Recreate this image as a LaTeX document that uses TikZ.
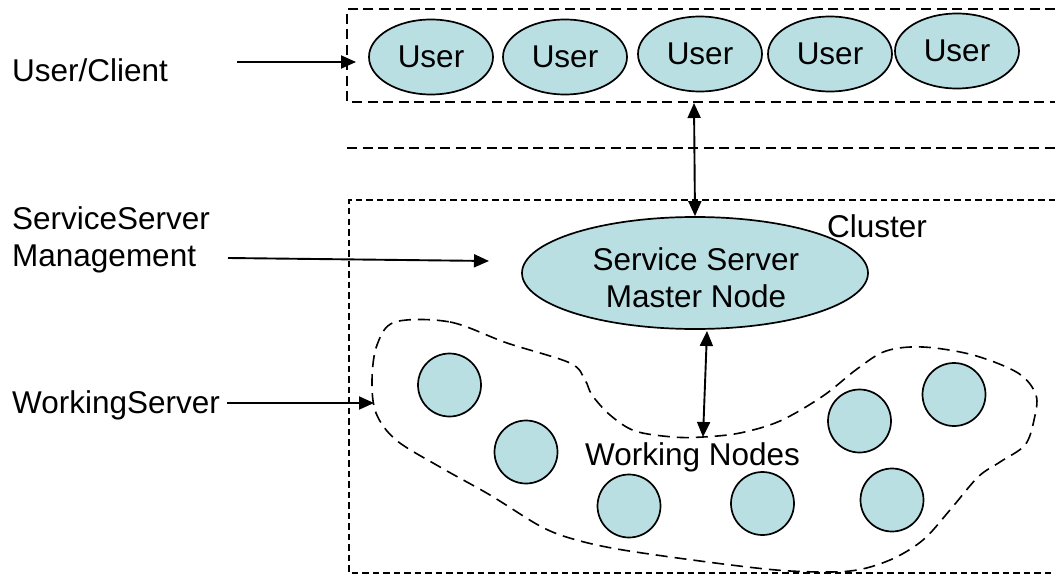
\documentclass[tikz,border=0pt]{standalone}
\usepackage{fontspec}
\setmainfont{Liberation Sans}
\usetikzlibrary{shapes.geometric,arrows.meta}
\definecolor{nodefill}{RGB}{185,223,227}
\tikzset{
  every node/.style={font=\fontsize{31.5}{37}\selectfont},
  usernode/.style={ellipse,draw=black,line width=1.7pt,fill=nodefill,
    minimum width=124pt,minimum height=75pt,inner sep=0pt},
  masternode/.style={ellipse,draw=black,line width=1.7pt,fill=nodefill,
    minimum width=346pt,minimum height=112pt,inner sep=0pt},
  worker/.style={circle,draw=black,line width=1.7pt,fill=nodefill,
    minimum size=63pt,inner sep=0pt},
  tierline/.style={line width=1.6pt,dash pattern=on 10pt off 5.5pt},
  clusterline/.style={line width=1.4pt,dash pattern=on 6.5pt off 4pt},
  groupline/.style={line width=1.6pt,dash pattern=on 12pt off 7pt},
  link/.style={line width=1.9pt,-{Triangle[length=15pt,width=13pt]}},
  duplex/.style={line width=1.9pt,{Triangle[length=15pt,width=13pt]}-{Triangle[length=15pt,width=13pt]}},
  sidelabel/.style={anchor=base west,inner sep=0pt},
}
\begin{document}
\begin{tikzpicture}[x=1pt,y=-1pt]
\useasboundingbox (0,0) rectangle (1055,575);

% client tier frame and tier separator
\draw[tierline] (1055,9) -- (347,9) -- (347,102) -- (1055,102);
\draw[tierline] (347,148) -- (1055,148);

% cluster frame
\draw[clusterline] (1055,200) -- (349,200) -- (349,573) -- (1055,573);

% working node group outline
\draw[groupline] plot[smooth cycle,tension=0.55] coordinates {
  (395,322) (450,322) (507,343) (570,363) (585,380) (592,395) (610,415)
  (635,431) (673,437) (703,437) (740,433) (780,421) (823,396) (857,369)
  (886,351) (923,347) (973,355) (1018,373) (1036,395) (1034,420) (1025,445)
  (1000,462) (978,477) (950,510) (923,540) (890,560) (850,571) (790,571)
  (723,564) (623,550) (573,539) (540,526) (490,495) (440,467) (396,440)
  (376,413) (372,380) (377,345)};

% clients
\node[usernode] (u1) at (431,57) {User};
\node[usernode] (u2) at (565,57) {User};
\node[usernode] (u3) at (700,54) {User};
\node[usernode] (u4) at (830,54) {User};
\node[usernode] (u5) at (957,51) {User};

% master node
\node[masternode] (master) at (695,273) {};
\node[align=center,inner sep=0pt] (mastertext) at (696,277.5) {Service Server\\Master Node};
\node[sidelabel] (cluster) at (827,237) {Cluster};

% working nodes
\node[worker] (w1) at (449.5,385) {};
\node[worker] (w2) at (526,452) {};
\node[worker] (w3) at (629,506) {};
\node[worker] (w4) at (762.5,503.5) {};
\node[worker] (w5) at (892,500) {};
\node[worker] (w6) at (859.5,421) {};
\node[worker] (w7) at (954,394.5) {};
\node[sidelabel] (worktext) at (585,465) {Working Nodes};

% layer labels (a two-line node sits on the baseline of its last line)
\node[sidelabel] (lclient) at (12,82) {User/Client};
\node[sidelabel,align=left] (lmanage) at (12,266.5) {ServiceServer\\Management};
\node[sidelabel] (lwork) at (12,413) {WorkingServer};

% connector ends
\coordinate (clientA) at (237,62);
\coordinate (clientB) at (356,62);
\coordinate (manageA) at (228,258);
\coordinate (manageB) at (489,261);
\coordinate (workA) at (227,403);
\coordinate (workB) at (374,403);
\coordinate (tierbottom) at (694,103);
\coordinate (masterfoot) at (707,331);
\coordinate (grouptop) at (703,437);

% connectors
\draw[link] (clientA) -- (clientB);
\draw[link] (manageA) -- (manageB);
\draw[link] (workA) -- (workB);
\draw[duplex] (tierbottom) -- (master.north);
\draw[duplex] (masterfoot) -- (grouptop);
\end{tikzpicture}
\end{document}
